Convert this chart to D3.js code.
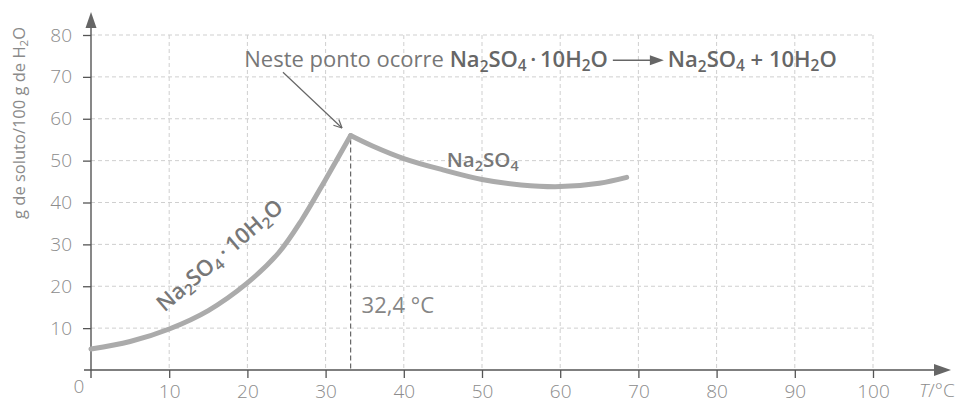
<!DOCTYPE html>
<html lang="pt">
<head>
<meta charset="utf-8">
<title>Solubilidade do Na2SO4</title>
<script src="https://d3js.org/d3.v7.min.js"></script>
<style>
  body { margin: 0; background: #fff; }
  text { font-family: "Open Sans", "Liberation Sans", Arial, sans-serif; }
  .tickT { fill: #8c8c8c; font-size: 19px; font-weight: 300; }
  .grid { stroke: #cfcfcf; stroke-width: 1; stroke-dasharray: 4,3; }
  .curve { fill: none; stroke: #ababab; stroke-width: 5; stroke-linecap: round; stroke-linejoin: round; }
</style>
</head>
<body>
<div id="chart"></div>
<script>
// ---- data ----
var xTicks = [10, 20, 30, 40, 50, 60, 70, 80, 90, 100];
var yTicks = [10, 20, 30, 40, 50, 60, 70, 80];
// Na2SO4·10H2O branch (rising)
var hydT = [0, 5, 10, 15, 20, 24, 27, 30, 33.2];
var hydS = [5, 6.8, 9.8, 14.2, 20.8, 28, 36, 45.5, 56];
// Na2SO4 branch (after transition)
var anhT = [33.2, 36, 40, 45, 50, 55, 60, 65, 68.5];
var anhS = [56, 53.5, 50.5, 47.8, 45.5, 44.2, 43.8, 44.6, 46];
var transT = 33.2, transS = 56, transLabel = '32,4 °C';
var yTitle = 'g de soluto/100 g de H_2O';
var xTitle = 'T/°C';
var noteIntro = 'Neste ponto ocorre ';
var noteReact = 'Na_2SO_4\u2009·\u200910H_2O';
var noteProd = 'Na_2SO_4 + 10H_2O';
var hydLabel = 'Na_2SO_4\u2009·\u200910H_2O';
var anhLabel = 'Na_2SO_4';

var W = 957, H = 406;
var svg = d3.select('#chart').append('svg')
    .attr('width', W).attr('height', H);

var x = d3.scaleLinear().domain([0, 100]).range([91, 873]);
var y = d3.scaleLinear().domain([0, 80]).range([370, 35]);

// write a formula with _n subscripts into a text selection
function chem(sel, str, opts) {
    opts = opts || {};
    var parts = str.split(/_(\d+)/);
    var down = false;
    parts.forEach(function(p, i) {
        if (p === '') return;
        var sub = i % 2 === 1;
        var t = sel.append('tspan').text(p);
        if (opts.weight) t.attr('font-weight', opts.weight);
        if (opts.fill) t.attr('fill', opts.fill);
        if (sub) {
            t.attr('font-size', '70%').attr('dy', down ? 0 : '0.28em');
            down = true;
        } else if (down) {
            t.attr('dy', '-0.2em');
            down = false;
        }
    });
    return sel;
}

// grid
svg.append('g').selectAll('line').data(yTicks).enter().append('line')
    .attr('class', 'grid')
    .attr('x1', x(0)).attr('x2', x(100))
    .attr('y1', d => y(d)).attr('y2', d => y(d));
svg.append('g').selectAll('line').data(xTicks).enter().append('line')
    .attr('class', 'grid')
    .attr('x1', d => x(d)).attr('x2', d => x(d))
    .attr('y1', y(80)).attr('y2', y(0));

// axes (ticks + labels from d3, axis lines drawn long with arrows)
var xAxis = svg.append('g')
    .attr('transform', 'translate(0,' + y(0) + ')')
    .call(d3.axisBottom(x).tickValues(xTicks).tickSize(8).tickPadding(7));
xAxis.select('.domain').remove();
xAxis.selectAll('line').attr('stroke', '#555').attr('stroke-width', 1.3);
xAxis.selectAll('text').attr('class', 'tickT').attr('fill', null).attr('font-size', null).attr('font-family', null);

var yAxis = svg.append('g')
    .attr('transform', 'translate(' + x(0) + ',0)')
    .call(d3.axisLeft(y).tickValues(yTicks).tickSize(8).tickPadding(11));
yAxis.select('.domain').remove();
yAxis.selectAll('line').attr('stroke', '#555').attr('stroke-width', 1.3);
yAxis.selectAll('text').attr('class', 'tickT').attr('fill', null).attr('font-size', null).attr('font-family', null);

svg.append('line').attr('stroke', '#555').attr('stroke-width', 1.4)
    .attr('x1', x(0) - 7).attr('x2', 938).attr('y1', y(0)).attr('y2', y(0));
svg.append('path').attr('fill', '#666')
    .attr('d', 'M951,' + y(0) + 'L934,' + (y(0) - 6) + 'L934,' + (y(0) + 6) + 'Z');
svg.append('line').attr('stroke', '#555').attr('stroke-width', 1.4)
    .attr('x1', x(0)).attr('x2', x(0)).attr('y1', y(0) + 8).attr('y2', 26);
svg.append('path').attr('fill', '#666')
    .attr('d', 'M' + x(0) + ',12L' + (x(0) - 5.5) + ',28L' + (x(0) + 5.5) + ',28Z');

svg.append('text').attr('class', 'tickT')
    .attr('x', x(0) - 12).attr('y', y(0) + 23).attr('text-anchor', 'middle').text('0');
var xt = svg.append('text').attr('class', 'tickT').attr('font-size', 17)
    .attr('x', 919).attr('y', y(0) + 27);
xt.append('tspan').attr('font-style', 'italic').text(xTitle.split('/')[0]);
xt.append('tspan').text('/' + xTitle.split('/')[1]);

chem(svg.append('text')
    .attr('transform', 'translate(25,' + y(59) + ') rotate(-90)')
    .attr('text-anchor', 'middle')
    .attr('font-size', 16.5).attr('fill', '#8a8a8a'), yTitle);

// transition dashed line
svg.append('line')
    .attr('x1', x(transT)).attr('x2', x(transT))
    .attr('y1', y(transS) + 4).attr('y2', y(0))
    .attr('stroke', '#666').attr('stroke-width', 1.2).attr('stroke-dasharray', '5,3');

// curves
var line = d3.line().x(d => x(d[0])).y(d => y(d[1])).curve(d3.curveCatmullRom.alpha(0.5));
svg.append('path').attr('class', 'curve').attr('d', line(d3.zip(hydT, hydS)));
svg.append('path').attr('class', 'curve').attr('d', line(d3.zip(anhT, anhS)));

// labels
svg.append('text').attr('x', x(34.6)).attr('y', y(13.5))
    .attr('font-size', 22).attr('fill', '#858585').text(transLabel);

chem(svg.append('text').attr('x', x(45.5)).attr('y', y(48.5))
    .attr('font-size', 20.5).attr('font-weight', 600).attr('fill', '#777'), anhLabel);

chem(svg.append('text')
    .attr('transform', 'translate(' + x(17.1) + ',' + y(26) + ') rotate(-40.5)')
    .attr('text-anchor', 'middle')
    .attr('font-size', 22).attr('font-weight', 600).attr('fill', '#777'), hydLabel);

// annotation
var fs = 22;
var note = svg.append('text').attr('x', x(19.6)).attr('y', y(72.3))
    .attr('font-size', fs).attr('fill', '#777');
note.append('tspan').attr('font-weight', 400).text(noteIntro);
chem(note, noteReact, {weight: 600, fill: '#666'});
var endX = x(19.6) + note.node().getComputedTextLength();
var ay = y(72.3) - 7;
svg.append('line').attr('stroke', '#666').attr('stroke-width', 1.4)
    .attr('x1', endX + 5).attr('x2', endX + 44).attr('y1', ay).attr('y2', ay);
svg.append('path').attr('fill', '#666')
    .attr('d', 'M' + (endX + 56) + ',' + ay + 'L' + (endX + 42) + ',' + (ay - 5) + 'L' + (endX + 42) + ',' + (ay + 5) + 'Z');
chem(svg.append('text').attr('x', endX + 60).attr('y', y(72.3))
    .attr('font-size', fs).attr('fill', '#666'), noteProd, {weight: 600});

// pointer arrow
var p0 = [x(24.55), y(71.1)], p1 = [x(32.1), y(57.8)];
svg.append('line').attr('stroke', '#666').attr('stroke-width', 1.2)
    .attr('x1', p0[0]).attr('y1', p0[1]).attr('x2', p1[0]).attr('y2', p1[1]);
var ang = Math.atan2(p1[1] - p0[1], p1[0] - p0[0]);
[0.45, -0.45].forEach(function(a) {
    svg.append('line').attr('stroke', '#666').attr('stroke-width', 1.2)
        .attr('x1', p1[0]).attr('y1', p1[1])
        .attr('x2', p1[0] - 9 * Math.cos(ang + a)).attr('y2', p1[1] - 9 * Math.sin(ang + a));
});
</script>
</body>
</html>
